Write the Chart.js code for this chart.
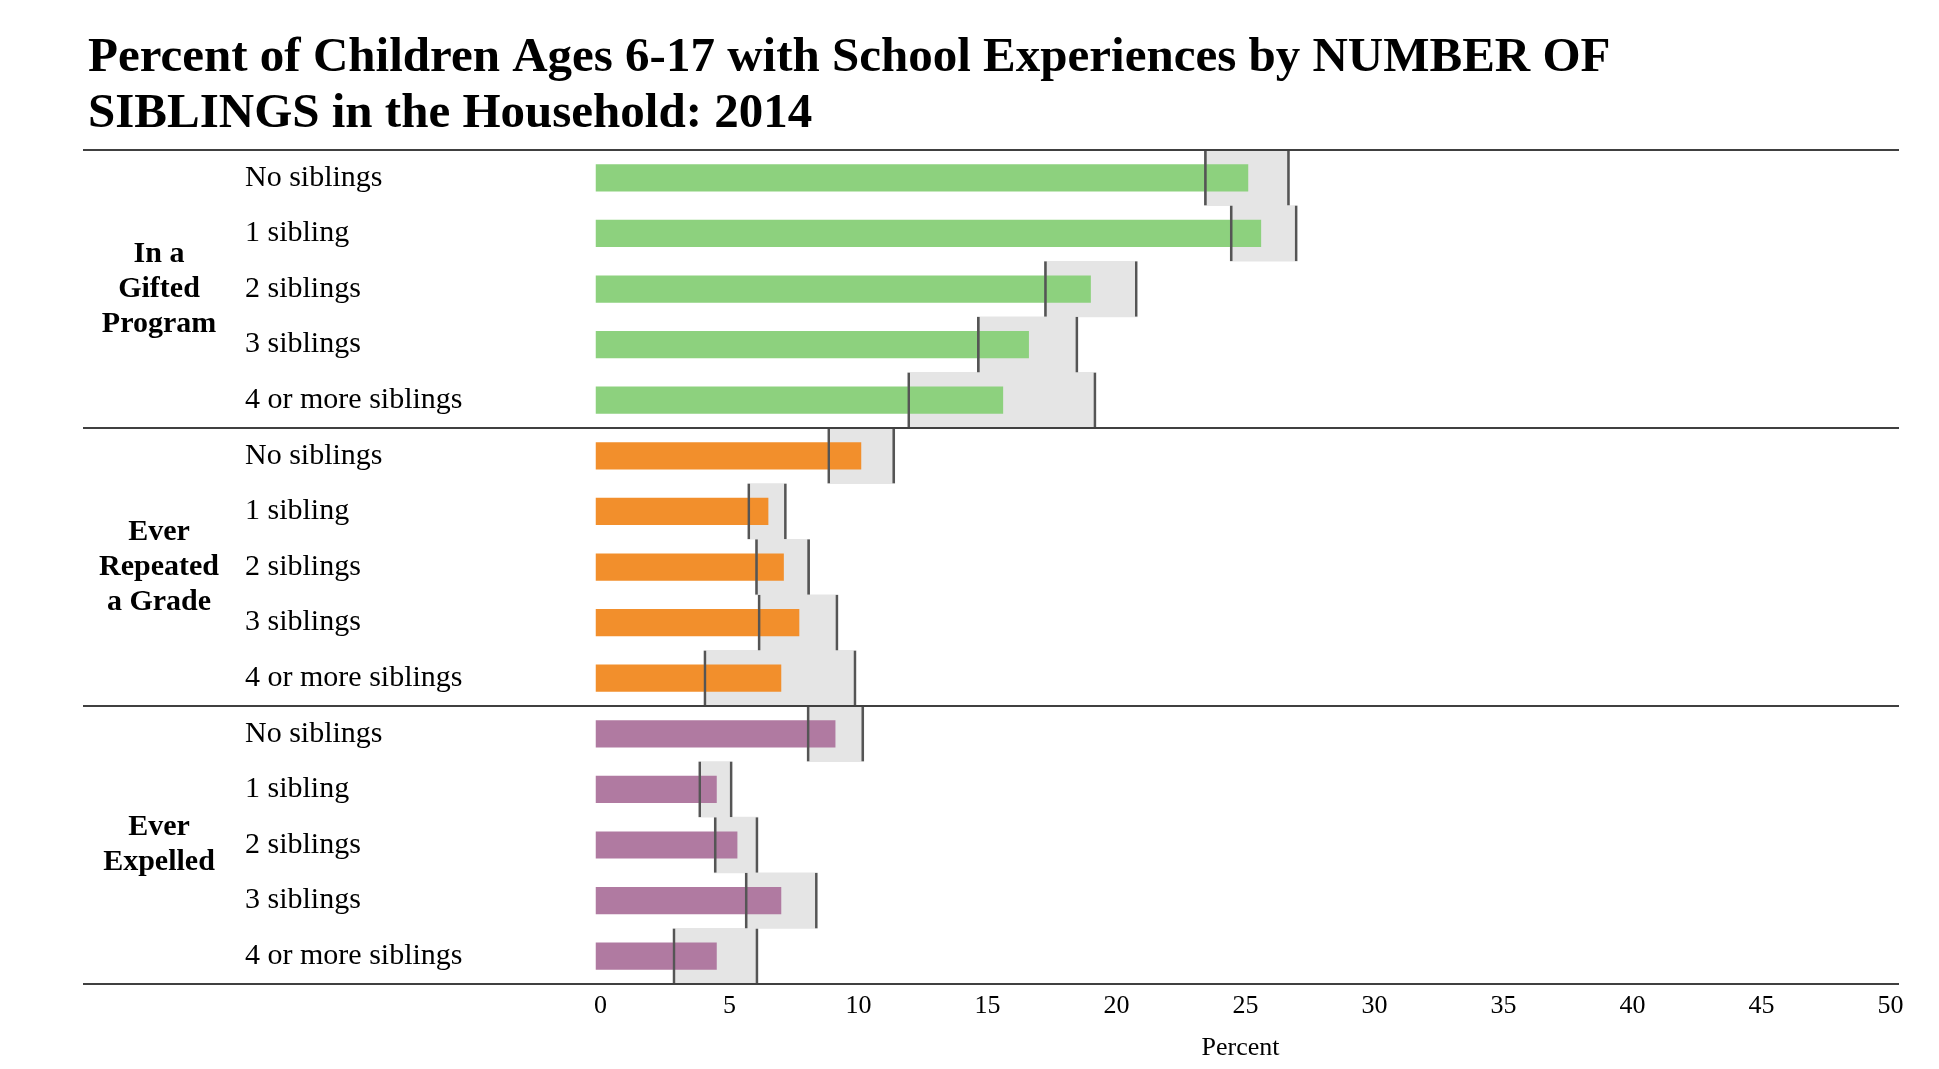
<!DOCTYPE html>
<html>
<head>
<meta charset="utf-8">
<script src="https://cdn.jsdelivr.net/npm/chart.js@4.4.1/dist/chart.umd.min.js"></script>
<style>
html,body{margin:0;padding:0;background:#fff;}
canvas{display:block;}
</style>
</head>
<body>
<canvas id="c" width="1939" height="1069"></canvas>
<script>
// ---- Data ----
const siblingLabels = ['No siblings', '1 sibling', '2 siblings', '3 siblings', '4 or more siblings'];
const groupNames = [['In a', 'Gifted', 'Program'], ['Ever', 'Repeated', 'a Grade'], ['Ever', 'Expelled']];

const giftedPct  = [25.3, 25.8, 19.2, 16.8, 15.8];
const giftedLow  = [23.6, 24.6, 17.4, 14.8, 12.1];
const giftedHigh = [26.9, 27.2, 21.0, 18.7, 19.4];

const repeatedPct  = [10.3, 6.7, 7.3, 7.9, 7.2];
const repeatedLow  = [9.0, 5.9, 6.2, 6.3, 4.2];
const repeatedHigh = [11.6, 7.4, 8.3, 9.4, 10.1];

const expelledPct  = [9.3, 4.7, 5.5, 7.2, 4.7];
const expelledLow  = [8.2, 4.0, 4.6, 5.8, 3.0];
const expelledHigh = [10.4, 5.3, 6.3, 8.6, 6.3];

const groupColors = ['#8dd17e', '#f28f2c', '#b07aa1'];
const xTickStep = 5;
const xMax = 50;

// ---- Build ----
const rowLabels = [].concat(siblingLabels, siblingLabels, siblingLabels);
const pctAll = [].concat(giftedPct, repeatedPct, expelledPct);
const lowAll = [].concat(giftedLow, repeatedLow, expelledLow);
const highAll = [].concat(giftedHigh, repeatedHigh, expelledHigh);
const ciAll = lowAll.map((l, i) => [l, highAll[i]]);
const barColors = rowLabels.map((_, i) => groupColors[Math.floor(i / siblingLabels.length)]);
const groupAxisLabels = rowLabels.map((_, i) => {
  const g = Math.floor(i / siblingLabels.length);
  return (i % siblingLabels.length === 2) ? groupNames[g] : '';
});

const FONT = "'Liberation Serif', 'Times New Roman', serif";

const separators = {
  id: 'separators',
  afterDraw(chart) {
    const y = chart.scales.y;
    const ctx = chart.ctx;
    const n = siblingLabels.length;
    const edges = [];
    for (let g = 0; g <= 3; g++) edges.push(g * n - 0.5);
    ctx.save();
    ctx.strokeStyle = '#404040';
    ctx.lineWidth = 2;
    edges.forEach(v => {
      const py = Math.round(y.getPixelForValue(v));
      ctx.beginPath();
      ctx.moveTo(83, py);
      ctx.lineTo(1899, py);
      ctx.stroke();
    });
    ctx.restore();
  }
};

new Chart(document.getElementById('c'), {
  type: 'bar',
  data: {
    labels: rowLabels,
    datasets: [
      {
        label: 'CI lines',
        data: ciAll,
        backgroundColor: 'rgba(0,0,0,0)',
        borderColor: '#555555',
        borderWidth: {left: 2, right: 2, top: 0, bottom: 0},
        borderSkipped: false,
        barPercentage: 1,
        categoryPercentage: 1,
        grouped: false,
        order: 0
      },
      {
        label: 'Percent',
        data: pctAll,
        backgroundColor: barColors,
        borderWidth: 0,
        barPercentage: 0.49,
        categoryPercentage: 1,
        grouped: false,
        order: 1
      },
      {
        label: 'CI',
        data: ciAll,
        backgroundColor: '#e5e5e5',
        borderWidth: 0,
        barPercentage: 1,
        categoryPercentage: 1,
        grouped: false,
        order: 2
      }
    ]
  },
  options: {
    indexAxis: 'y',
    responsive: false,
    animation: false,
    devicePixelRatio: 1,
    layout: {padding: {left: 88, right: 53.5, top: 0, bottom: 0}},
    plugins: {
      legend: {display: false},
      tooltip: {enabled: false},
      title: {
        display: true,
        align: 'start',
        text: ['Percent of Children Ages 6-17 with School Experiences by NUMBER OF', 'SIBLINGS in the Household: 2014'],
        color: '#000',
        font: {family: FONT, size: 49, weight: 'bold', lineHeight: 1.143},
        padding: {top: 30, bottom: 8}
      }
    },
    scales: {
      x: {
        type: 'linear',
        position: 'bottom',
        min: 0,
        max: xMax,
        grid: {display: false, drawTicks: false},
        border: {display: false},
        ticks: {
          stepSize: xTickStep,
          color: '#000',
          padding: 7,
          labelOffset: 5,
          font: {family: FONT, size: 26, lineHeight: 1.2}
        },
        title: {
          display: true,
          text: 'Percent',
          color: '#000',
          font: {family: FONT, size: 26, lineHeight: 1.2},
          padding: {top: 3, bottom: 5.6}
        }
      },
      y: {
        type: 'category',
        position: 'left',
        offset: true,
        weight: 0,
        grid: {display: false, drawTicks: false, offset: true},
        border: {display: false},
        ticks: {
          autoSkip: false,
          crossAlign: 'far',
          color: '#000',
          padding: 0,
          font: {family: FONT, size: 30, lineHeight: 1.2}
        },
        afterFit(scale) { scale.width = 350.5; }
      },
      yg: {
        type: 'category',
        position: 'left',
        offset: true,
        weight: 1,
        labels: groupAxisLabels,
        grid: {display: false, drawTicks: false, offset: true},
        border: {display: false},
        ticks: {
          autoSkip: false,
          crossAlign: 'center',
          color: '#000',
          padding: 26,
          font: {family: FONT, size: 30, weight: 'bold', lineHeight: 1.17}
        },
        afterFit(scale) { scale.width = 157; }
      }
    }
  },
  plugins: [separators]
});
</script>
</body>
</html>
